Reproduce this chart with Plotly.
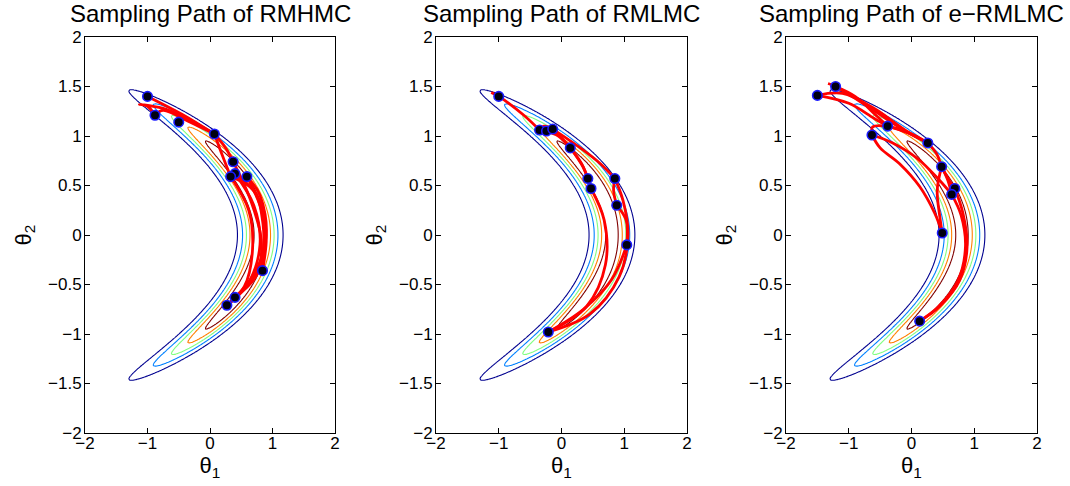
import numpy as np
import plotly.graph_objects as go

# ---------------- data ----------------
TITLES = ["Sampling Path of RMHMC", "Sampling Path of RMLMC", "Sampling Path of e\u2212RMLMC"]

# banana-shaped posterior: y_i ~ N(theta1 + theta2^2, sigma_y^2), theta ~ N(0, sigma_theta^2)
N_OBS = 100
SIGMA_Y = 2.0
SIGMA_THETA = 0.95
Y_BAR = 0.84
LEVEL_FRACTIONS = [1 / 6, 2 / 6, 3 / 6, 4 / 6, 5 / 6]
LEVEL_COLORS = ["#00008f", "#0080ff", "#80ff80", "#ff8000", "#800000"]

X_TICKS = [-2, -1, 0, 1, 2]
Y_TICKS = [-2, -1.5, -1, -0.5, 0, 0.5, 1, 1.5, 2]

# ---- RMHMC ----
RMHMC_SAMPLES_X = [-1.00, -0.88, -0.50, 0.07, 0.37, 0.40, 0.33, 0.59, 0.84, 0.40, 0.27]
RMHMC_SAMPLES_Y = [1.40, 1.21, 1.14, 1.02, 0.74, 0.62, 0.59, 0.59, -0.36, -0.63, -0.71]
RMHMC_PATHS_X = [
    [-1.00, -0.45, 0.07],
    [-0.88, -1.00, -1.13, -0.70, -0.20, 0.07],
    [-0.88, -0.75, -0.35, 0.07],
    [0.07, 0.25, 0.37],
    [0.07, 0.20, 0.33],
    [0.37, 0.65, 0.82, 0.75, 0.40],
    [0.40, 0.78, 0.87, 0.75, 0.40],
    [0.40, 0.70, 0.80, 0.60, 0.27],
    [0.27, 0.70, 0.90, 0.80, 0.59],
    [0.59, 0.80, 0.90, 0.84],
    [0.84, 0.85, 0.70, 0.33],
    [0.33, 0.62, 0.68, 0.55, 0.27],
]
RMHMC_PATHS_Y = [
    [1.40, 1.22, 1.02],
    [1.21, 1.30, 1.32, 1.27, 1.12, 1.02],
    [1.21, 1.26, 1.15, 1.02],
    [1.02, 0.88, 0.74],
    [1.02, 0.80, 0.59],
    [0.74, 0.35, -0.05, -0.40, -0.63],
    [-0.63, -0.35, 0.05, 0.40, 0.62],
    [0.62, 0.30, -0.10, -0.50, -0.71],
    [-0.71, -0.40, 0.00, 0.40, 0.59],
    [0.59, 0.30, 0.00, -0.36],
    [-0.36, 0.10, 0.45, 0.59],
    [0.59, 0.25, -0.15, -0.52, -0.71],
]

# ---- RMLMC ----
RMLMC_SAMPLES_X = [-1.00, -0.35, -0.24, -0.14, 0.14, 0.42, 0.47, 0.85, 0.88, 1.04, -0.21]
RMLMC_SAMPLES_Y = [1.40, 1.06, 1.05, 1.07, 0.88, 0.57, 0.47, 0.57, 0.30, -0.10, -0.98]
RMLMC_PATHS_X = [
    [-1.12, -1.00, -0.60, -0.35],
    [-0.35, -0.28, -0.14],
    [-0.24, -0.05, 0.14],
    [-0.14, 0.00, 0.14],
    [0.14, 0.32, 0.42],
    [0.14, 0.35, 0.47],
    [0.47, 0.68, 0.70, 0.40, -0.21],
    [-0.21, 0.35, 0.80, 1.04],
    [1.04, 1.03, 0.88],
    [0.88, 0.83, 0.85],
    [0.85, 0.98, 1.06, 0.92, 0.45, -0.21],
    [-0.14, 0.30, 0.62, 0.85],
]
RMLMC_PATHS_Y = [
    [1.44, 1.40, 1.21, 1.06],
    [1.06, 1.10, 1.07],
    [1.05, 1.00, 0.88],
    [1.07, 0.98, 0.88],
    [0.88, 0.72, 0.57],
    [0.88, 0.68, 0.47],
    [0.47, 0.15, -0.30, -0.72, -0.98],
    [-0.98, -0.75, -0.45, -0.10],
    [-0.10, 0.15, 0.30],
    [0.30, 0.45, 0.57],
    [0.57, 0.35, 0.00, -0.42, -0.80, -0.98],
    [1.07, 0.88, 0.72, 0.57],
]

# ---- e-RMLMC ----
ERMLMC_SAMPLES_X = [-1.50, -1.21, -0.38, -0.63, 0.26, 0.48, 0.69, 0.64, 0.49, 0.13]
ERMLMC_SAMPLES_Y = [1.41, 1.50, 1.10, 1.01, 0.93, 0.69, 0.47, 0.41, 0.02, -0.87]
ERMLMC_PATHS_X = [
    [-1.33, -1.21, -0.70, -0.10, 0.26],
    [-1.50, -1.10, -0.60, -0.10, 0.26],
    [-1.50, -1.00, -0.60, -0.38],
    [-1.21, -0.90, -0.55, -0.38],
    [-0.38, -0.05, 0.26],
    [-0.63, -0.62, -0.40, 0.00, 0.26],
    [0.26, 0.40, 0.48],
    [0.48, 0.41, 0.45, 0.49],
    [-0.63, -0.50, -0.19, 0.13, 0.37, 0.49],
    [-0.63, -0.30, 0.10, 0.45, 0.64],
    [0.48, 0.60, 0.69],
    [0.69, 0.82, 0.886, 0.77, 0.45, 0.13],
    [0.64, 0.79, 0.86, 0.74, 0.42, 0.13],
    [0.48, 0.58, 0.64],
]
ERMLMC_PATHS_Y = [
    [1.53, 1.50, 1.30, 1.05, 0.93],
    [1.41, 1.43, 1.28, 1.06, 0.93],
    [1.41, 1.33, 1.18, 1.10],
    [1.50, 1.40, 1.20, 1.10],
    [1.10, 1.03, 0.93],
    [1.01, 1.09, 1.10, 1.02, 0.93],
    [0.93, 0.82, 0.69],
    [0.69, 0.455, 0.19, 0.02],
    [1.01, 0.88, 0.72, 0.49, 0.22, 0.02],
    [1.01, 0.93, 0.77, 0.55, 0.41],
    [0.69, 0.55, 0.47],
    [0.47, 0.22, -0.117, -0.453, -0.72, -0.87],
    [0.41, 0.20, -0.12, -0.46, -0.73, -0.87],
    [0.69, 0.55, 0.41],
]

PANELS = [
    (RMHMC_SAMPLES_X, RMHMC_SAMPLES_Y, RMHMC_PATHS_X, RMHMC_PATHS_Y),
    (RMLMC_SAMPLES_X, RMLMC_SAMPLES_Y, RMLMC_PATHS_X, RMLMC_PATHS_Y),
    (ERMLMC_SAMPLES_X, ERMLMC_SAMPLES_Y, ERMLMC_PATHS_X, ERMLMC_PATHS_Y),
]

# ---------------- density grid ----------------
g1 = np.linspace(-2, 2, 241)
g2 = np.linspace(-2, 2, 241)
T1, T2 = np.meshgrid(g1, g2)
logp = (-N_OBS / (2 * SIGMA_Y ** 2) * (T1 + T2 ** 2 - Y_BAR) ** 2
        - (T1 ** 2 + T2 ** 2) / (2 * SIGMA_THETA ** 2))
Z = np.exp(logp - logp.max())

# ---------------- figure ----------------
W, H = 1070, 486
ML, MR, MT, MB = 85, 33, 37, 53
PW = W - ML - MR
DOMAINS = [[0.0, 250 / PW], [(436 - ML) / PW, (687 - ML) / PW], [(786 - ML) / PW, 1.0]]

FONT = "Liberation Sans, Arial, Helvetica, sans-serif"
fig = go.Figure()
colorscale = [[i / (len(LEVEL_COLORS) - 1), c] for i, c in enumerate(LEVEL_COLORS)]
step = LEVEL_FRACTIONS[1] - LEVEL_FRACTIONS[0]

for k, (sx, sy, px, py) in enumerate(PANELS):
    xa = "x" if k == 0 else f"x{k+1}"
    ya = "y" if k == 0 else f"y{k+1}"
    fig.add_trace(go.Contour(
        x=g1, y=g2, z=Z, xaxis=xa, yaxis=ya,
        contours=dict(start=LEVEL_FRACTIONS[0], end=LEVEL_FRACTIONS[-1], size=step,
                      coloring="lines"),
        colorscale=colorscale, showscale=False, line=dict(width=1.1),
        hoverinfo="skip"))
    for pxs, pys in zip(px, py):
        fig.add_trace(go.Scatter(
            x=pxs, y=pys, xaxis=xa, yaxis=ya, mode="lines",
            line=dict(color="#ff0000", width=2.8, shape="spline", smoothing=1.0),
            hoverinfo="skip", showlegend=False))
    fig.add_trace(go.Scatter(
        x=sx, y=sy, xaxis=xa, yaxis=ya, mode="markers",
        marker=dict(size=9.5, color="#000010", line=dict(color="#1a1aff", width=1.6)),
        hoverinfo="skip", showlegend=False))

axis_common = dict(range=[-2, 2], showgrid=False, zeroline=False, showline=True,
                   linecolor="black", linewidth=1, mirror="ticks", ticks="inside",
                   ticklen=5, tickwidth=1, tickcolor="black", automargin=False,
                   tickfont=dict(family=FONT, size=17, color="black"))

layout = dict(width=W, height=H, margin=dict(l=ML, r=MR, t=MT, b=MB, autoexpand=False),
              paper_bgcolor="white", plot_bgcolor="white", showlegend=False,
              font=dict(family=FONT, color="black"))
annotations = []
for k in range(3):
    xn = "xaxis" if k == 0 else f"xaxis{k+1}"
    yn = "yaxis" if k == 0 else f"yaxis{k+1}"
    ya = "y" if k == 0 else f"y{k+1}"
    xa = "x" if k == 0 else f"x{k+1}"
    layout[xn] = dict(axis_common, domain=DOMAINS[k], anchor=ya, tickvals=X_TICKS,
                      ticklabelstandoff=-5,
                      title=dict(text="\u03b8<sub>1</sub>", font=dict(family=FONT, size=22),
                                 standoff=2))
    layout[yn] = dict(axis_common, domain=[0, 1], anchor=xa, tickvals=Y_TICKS,
                      ticklabelstandoff=-1,
                      title=dict(text="\u03b8<sub>2</sub>", font=dict(family=FONT, size=22),
                                 standoff=10))
    annotations.append(dict(text=TITLES[k], xref="paper", yref="paper",
                            x=sum(DOMAINS[k]) / 2, y=1 + (MT - 13) / (H - MT - MB),
                            xanchor="center", yanchor="middle", showarrow=False,
                            font=dict(family=FONT, size=24, color="black")))
layout["annotations"] = annotations
fig.update_layout(**layout)
fig.write_html("out.html", config={"displayModeBar": False, "staticPlot": True},
               post_script="document.body.style.margin='0';document.body.style.padding='0';")
